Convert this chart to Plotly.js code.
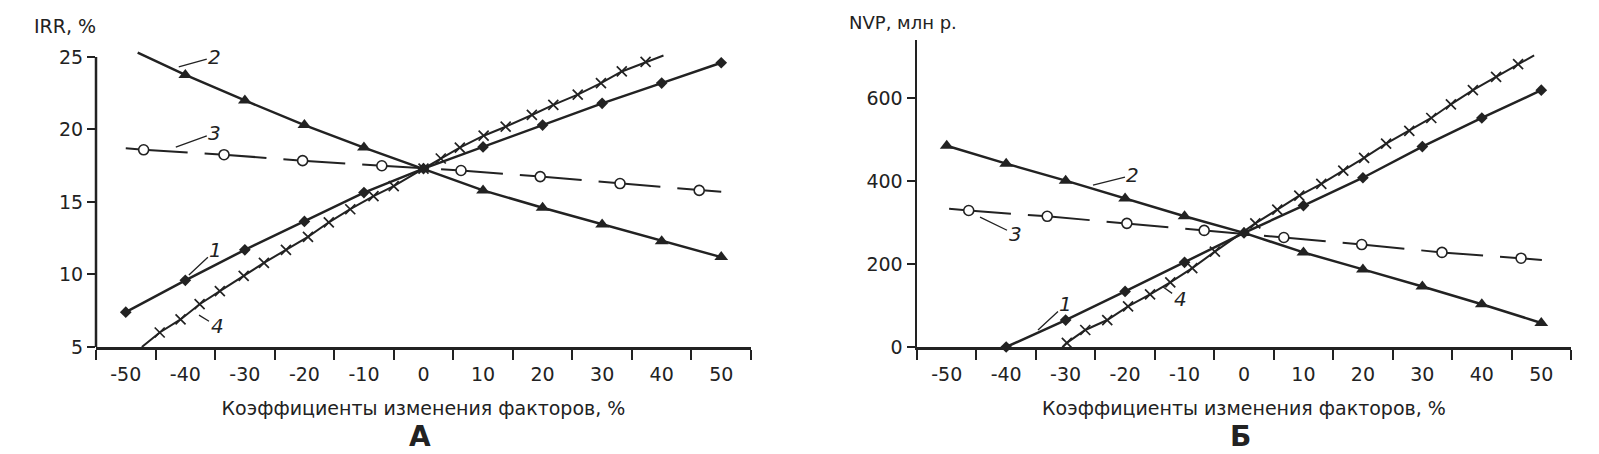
<!DOCTYPE html>
<html><head><meta charset="utf-8">
<script src="https://cdn.plot.ly/plotly-3.0.1.min.js"></script>
<style>html,body{margin:0;padding:0;background:#fff}#chart{width:1599px;height:454px}</style>
</head><body><div id="chart"></div>
<script>
// ---------- Data: panel A (IRR, %) ----------
const xTickLabels = [-50,-40,-30,-20,-10,0,10,20,30,40,50];
const xTickMarks = [-55,-45,-35,-25,-15,-5,5,15,25,35,45,55];
const yTicksA = [5,10,15,20,25];
const yTicksB = [0,200,400,600];

const a1x = [-50,-40,-30,-20,-10,0,10,20,30,40,50];
const a1y = [7.4,9.6,11.7,13.66,15.65,17.3,18.8,20.3,21.8,23.2,24.6];

const a2x = [-48,-40,-30,-20,-10,0,10,20,30,40,50];
const a2y = [25.3,23.76,22.0,20.3,18.75,17.3,15.8,14.6,13.45,12.3,11.2];

const a3x = [-50,-47,-33.5,-20.3,-7,6.3,19.6,33,46.3,50];
const a3y = [18.7,18.6,18.26,17.85,17.5,17.17,16.75,16.27,15.8,15.7];

const a4x = [-47.3,-44.3,-40.8,-37.6,-34.2,-30.2,-26.8,-23.1,-19.4,-15.9,-12.3,-8.4,-5,0,2.9,6.1,10.1,13.8,18.2,21.8,25.9,29.8,33.3,37.3,40.3];
const a4y = [5,6.0,6.9,7.95,8.85,9.9,10.8,11.7,12.6,13.6,14.5,15.4,16.1,17.3,18.0,18.75,19.57,20.19,21.0,21.7,22.4,23.2,24.0,24.66,25.1];

// ---------- Data: panel Б (NVP, млн р.) ----------
const b1x = [-40,-30,-20,-10,0,10,20,30,40,50];
const b1y = [0,65,134,204,275,341,408,483,552,619];

const b2x = [-50,-40,-30,-20,-10,0,10,20,30,40,50];
const b2y = [485,442,401,358,315,275,228,187,146,103,58];

const b3x = [-49.6,-46.3,-33.1,-19.7,-6.7,6.7,19.8,33.3,46.6,50.1];
const b3y = [333,329,315,298,281,264,247,228,214,210];

const b4x = [-30.5,-29.8,-26.7,-23,-19.5,-15.8,-12.4,-8.7,-4.9,1.9,5.6,9.3,13,16.7,20.2,23.9,27.8,31.5,34.8,38.5,42.4,46.1,48.8];
const b4y = [0,10,41,65,98,127,156,190,230,298,331,365,393,425,456,490,521,552,585,619,651,682,703];

// ---------- Styling ----------
const INK = '#222';
const FONT = 'DejaVu Sans, Liberation Sans, Arial, sans-serif';

function lineTr(x, y, xa, ya, w, dash) {
  return {x, y, xaxis: xa, yaxis: ya, type: 'scatter', mode: 'lines',
    line: {color: INK, width: w, dash: dash || 'solid'}, hoverinfo: 'skip', showlegend: false};
}
function markTr(x, y, xa, ya, sym, size, fill, lw) {
  return {x, y, xaxis: xa, yaxis: ya, type: 'scatter', mode: 'markers', cliponaxis: false,
    marker: {symbol: sym, size: size, color: fill, line: {color: INK, width: lw}}, showlegend: false};
}

const traces = [
  // panel A
  lineTr(a3x, a3y, 'x', 'y', 2, '62px,17px'),
  markTr(a3x.slice(1, -1), a3y.slice(1, -1), 'x', 'y', 'circle', 10, '#fff', 1.6),
  lineTr(a4x, a4y, 'x', 'y', 2),
  markTr(a4x.slice(1, -1), a4y.slice(1, -1), 'x', 'y', 'x-thin-open', 10, INK, 1.7),
  lineTr(a1x, a1y, 'x', 'y', 2.5),
  markTr(a1x, a1y, 'x', 'y', 'diamond', 9, INK, 0),
  lineTr(a2x, a2y, 'x', 'y', 2.5),
  markTr(a2x.slice(1), a2y.slice(1), 'x', 'y', 'triangle-up', 12, INK, 0),
  // panel B
  lineTr(b3x, b3y, 'x2', 'y2', 2, '62px,17px'),
  markTr(b3x.slice(1, -1), b3y.slice(1, -1), 'x2', 'y2', 'circle', 10, '#fff', 1.6),
  lineTr(b4x, b4y, 'x2', 'y2', 2),
  markTr(b4x.slice(1, -1), b4y.slice(1, -1), 'x2', 'y2', 'x-thin-open', 10, INK, 1.7),
  lineTr(b1x, b1y, 'x2', 'y2', 2.5),
  markTr(b1x, b1y, 'x2', 'y2', 'diamond', 9, INK, 0),
  lineTr(b2x, b2y, 'x2', 'y2', 2.5),
  markTr(b2x, b2y, 'x2', 'y2', 'triangle-up', 12, INK, 0)
];

function xAxis(domain, anchor) {
  return {
    domain: domain, anchor: anchor, range: [-55, 55], showgrid: false, zeroline: false,
    showline: true, linecolor: INK, linewidth: 2.5,
    tickmode: 'array', tickvals: xTickLabels, ticktext: xTickLabels.map(String),
    ticks: 'outside', ticklen: 9, tickcolor: 'rgba(0,0,0,0)',
    tickfont: {family: FONT, size: 19, color: INK},
    minor: {tickmode: 'array', tickvals: xTickMarks, ticks: 'outside', ticklen: 10, tickwidth: 2, tickcolor: INK, showgrid: false},
    title: {text: 'Коэффициенты изменения факторов, %', font: {family: FONT, size: 19, color: INK}, standoff: 18},
    fixedrange: true
  };
}
function yAxis(range, ticks, anchor, showline) {
  return {
    domain: [0, 1], anchor: anchor, range: range, showgrid: false, zeroline: false,
    showline: showline, linecolor: INK, linewidth: 2.5,
    tickmode: 'array', tickvals: ticks, ticks: 'outside', ticklen: 8, tickwidth: 2, tickcolor: INK,
    tickfont: {family: FONT, size: 19, color: INK}, fixedrange: true
  };
}

function lbl(text, x, y, ax, ay, xref, yref) {
  return {text: text, x: x, y: y, xref: xref, yref: yref, ax: ax, ay: ay, showarrow: true,
    arrowhead: 0, arrowwidth: 1.3, arrowcolor: INK, standoff: 0,
    font: {family: FONT, size: 20, color: INK, style: 'italic'}};
}

const layout = {
  width: 1599, height: 454, paper_bgcolor: '#fff', plot_bgcolor: '#fff',
  margin: {l: 0, r: 0, t: 40, b: 107},
  xaxis: xAxis([96/1599, 751/1599], 'y'),
  yaxis: yAxis([5, 26.17], yTicksA, 'x', false),
  xaxis2: xAxis([917/1599, 1571/1599], 'y2'),
  yaxis2: yAxis([0, 740], yTicksB, 'x2', true),
  shapes: [
    {type: 'line', xref: 'x domain', yref: 'y', x0: 0, x1: 0, y0: 5, y1: 25, line: {color: INK, width: 2.5}}
  ],
  annotations: [
    lbl('2', -41.1, 24.31, 36, -10, 'x', 'y'),
    lbl('3', -41.6, 18.79, 39, -14, 'x', 'y'),
    lbl('1', -39.4, 9.97, 27, -25, 'x', 'y'),
    lbl('4', -37.7, 7.2, 18, 11, 'x', 'y'),
    lbl('2', -25.4, 390, 40, -10, 'x2', 'y2'),
    lbl('3', -44.4, 313, 35, 17, 'x2', 'y2'),
    lbl('1', -34.65, 41, 28, -26, 'x2', 'y2'),
    lbl('4', -13.6, 144.6, 17, 12, 'x2', 'y2'),
    {text: 'IRR, %', xref: 'paper', yref: 'paper', x: 32/1599, y: 1.0456, xanchor: 'left', yanchor: 'middle', showarrow: false,
      font: {family: FONT, size: 19, color: INK}},
    {text: 'NVP, млн р.', xref: 'paper', yref: 'paper', x: 847/1599, y: 1.0554, xanchor: 'left', yanchor: 'middle', showarrow: false,
      font: {family: FONT, size: 18, color: INK}},
    {text: '<b>А</b>', xref: 'paper', yref: 'paper', x: 420/1599, y: -0.293, xanchor: 'center', yanchor: 'middle', showarrow: false,
      font: {family: FONT, size: 28, color: INK}},
    {text: '<b>Б</b>', xref: 'paper', yref: 'paper', x: 1240/1599, y: -0.293, xanchor: 'center', yanchor: 'middle', showarrow: false,
      font: {family: FONT, size: 28, color: INK}}
  ]
};

Plotly.newPlot('chart', traces, layout, {displayModeBar: false, staticPlot: true});
</script></body></html>
